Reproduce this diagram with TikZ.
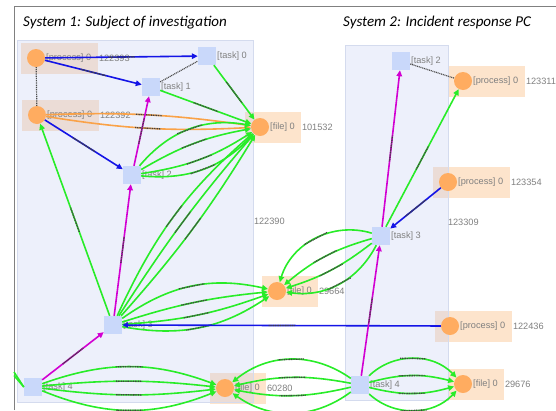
\documentclass[tikz,border=0pt]{standalone}
\usepackage{fontspec}
\setmainfont{Liberation Sans}
\newfontfamily\titlefont{Carlito}
\usetikzlibrary{arrows.meta,decorations.markings}
\definecolor{eg}{RGB}{40,236,40}
\definecolor{eb}{RGB}{20,20,230}
\definecolor{em}{RGB}{210,0,210}
\definecolor{eo}{RGB}{250,162,72}
\definecolor{nodeor}{RGB}{255,172,96}
\definecolor{taskbl}{RGB}{201,216,250}
\definecolor{peach}{RGB}{253,228,204}
\definecolor{boxbl}{RGB}{190,202,240}
\definecolor{boxln}{RGB}{212,219,238}
\definecolor{txtg}{RGB}{128,128,128}
\begin{document}
\begin{tikzpicture}[x=1pt,y=1pt,
  proc/.style={circle, fill=nodeor, minimum size=18pt, inner sep=0pt},
  taskbox/.style={rectangle, fill=taskbl, minimum size=18pt, inner sep=0pt},
  lab/.style={anchor=west, text=txtg, font=\fontsize{9.2}{10}\selectfont, inner sep=0.8pt},
  bgrect/.style={fill=peach},
  grp/.style={fill=boxbl, fill opacity=0.28, draw=boxln, line width=0.8pt},
  ttl/.style={anchor=base west, inner sep=0pt, font=\titlefont\itshape\fontsize{15}{18}\selectfont},
  mid/.style={postaction={decorate, decoration={markings, mark=at position 0.5 with {\draw[-, black!75, line width=1.3pt, dash pattern=on 1pt off 0.7pt] (-13pt,0) -- (13pt,0);}}}},
  ed/.style={line width=1.6pt, -{Triangle[length=6pt,width=5.5pt]}, mid},
  gl/.style={ed, draw=eg, color=eg},
  bl/.style={ed, draw=eb, color=eb},
  ml/.style={ed, draw=em, color=em},
  ol/.style={ed, draw=eo, color=eo},
  dotl/.style={black!70, line width=1.2pt, dash pattern=on 1pt off 0.8pt},
  stub/.style={draw=eg, line width=1.6pt}]
\useasboundingbox (0,0) rectangle (556,-410);
% frame
\draw[gray, line width=1pt] (14,-410) -- (14,-6) -- (556,-6);
% background rectangles of process/file nodes
\fill[bgrect] (21,-42.5) rectangle (98,-73.5);
\fill[bgrect] (22,-99.5) rectangle (99,-130.5);
\fill[bgrect] (245,-111.5) rectangle (301,-142.5);
\fill[bgrect] (210,-372.5) rectangle (266,-403.5);
\fill[bgrect] (262,-275.5) rectangle (318,-306.5);
\fill[bgrect] (448,-65.5) rectangle (525,-96.5);
\fill[bgrect] (433,-166.5) rectangle (510,-197.5);
\fill[bgrect] (435,-310.5) rectangle (512,-341.5);
\fill[bgrect] (448,-368.5) rectangle (504,-399.5);
% group boxes
\path[grp] (17,-40) rectangle (253,-402);
\path[grp] (345,-45) rectangle (448,-400);
% titles and group labels
\node[ttl] (t1) at (23,-26) {System 1: Subject of investigation};
\node[ttl] (t2) at (343,-26) {System 2: Incident response PC};
\node[lab] (g1) at (253,-221) {122390};
\node[lab] (g2) at (447,-222) {123309};
% process / file nodes
\node[proc] (P1) at (36,-58) {};
\node[lab] (P1l) at (P1.east) {[process] 0};
\node[lab] (P1n) at (98,-58) {122393};
\node[proc] (P2) at (37,-115) {};
\node[lab] (P2l) at (P2.east) {[process] 0};
\node[lab] (P2n) at (99,-115) {122392};
\node[proc] (F1) at (260,-127) {};
\node[lab] (F1l) at (F1.east) {[file] 0};
\node[lab] (F1n) at (301,-127) {101532};
\node[proc] (F60) at (225,-388) {};
\node[lab] (F60l) at (F60.east) {[file] 0};
\node[lab] (F60n) at (266,-388) {60280};
\node[proc] (F664) at (277,-291) {};
\node[lab] (F664l) at (F664.east) {[file] 0};
\node[lab] (F664n) at (318,-291) {29664};
\node[proc] (P311) at (463,-81) {};
\node[lab] (P311l) at (P311.east) {[process] 0};
\node[lab] (P311n) at (525,-81) {123311};
\node[proc] (P354) at (448,-182) {};
\node[lab] (P354l) at (P354.east) {[process] 0};
\node[lab] (P354n) at (510,-182) {123354};
\node[proc] (P436) at (450,-326) {};
\node[lab] (P436l) at (P436.east) {[process] 0};
\node[lab] (P436n) at (512,-326) {122436};
\node[proc] (F676) at (463,-384) {};
\node[lab] (F676l) at (F676.east) {[file] 0};
\node[lab] (F676n) at (504,-384) {29676};
% task nodes
\node[taskbox] (T0) at (207,-56) {};
\node[lab] (T0l) at (T0.east) {[task] 0};
\node[taskbox] (T1) at (151,-87) {};
\node[lab] (T1l) at (T1.east) {[task] 1};
\node[taskbox] (T2) at (132,-175) {};
\node[lab] (T2l) at (T2.east) {[task] 2};
\node[taskbox] (T3) at (113,-325) {};
\node[lab] (T3l) at (T3.east) {[task] 3};
\node[taskbox] (T4) at (33,-387) {};
\node[lab] (T4l) at (T4.east) {[task] 4};
\node[taskbox] (U2) at (401,-61) {};
\node[lab] (U2l) at (U2.east) {[task] 2};
\node[taskbox] (U3) at (381,-236) {};
\node[lab] (U3l) at (U3.east) {[task] 3};
\node[taskbox] (U4) at (360,-385) {};
\node[lab] (U4l) at (U4.east) {[task] 4};
\coordinate (L1) at (14,-372);
\coordinate (L2) at (14,-375.5);
% edges system 1
\draw[dotl] (P1) -- (P2);
\draw[dotl] (T1) -- (T0);
\draw[bl] (P1) -- (T0);
\draw[bl] (P1) -- (T1);
\draw[gl] (T0) -- (F1);
\draw[gl] (T1) -- (F1);
\draw[ol] (P2) to[bend left=5] (F1);
\draw[ol] (P2) to[bend right=6] (F1);
\draw[bl] (P2) -- (T2);
\draw[ml] (T2) -- (T1);
\draw[gl] (T2) to[bend left=30] (F1);
\draw[gl] (T2) to[bend left=10] (F1);
\draw[gl] (T2) to[bend right=12] (F1);
\draw[gl] (T2) to[bend right=26] (F1);
\draw[ml] (T3) -- (T2);
\draw[gl] (T3) -- (P2);
\draw[gl] (T3) to[bend left=12] (F1);
\draw[gl] (T3) to[bend left=4] (F1);
\draw[gl] (T3) to[bend right=5] (F1);
\draw[gl] (T3) to[bend left=24] (F664);
\draw[gl] (T3) to[bend left=6] (F664);
\draw[gl] (T3) to[bend right=8] (F664);
\draw[gl] (T3) to[bend right=22] (F664);
\draw[bl] (P436) -- (T3);
\draw[ml] (T4) -- (T3);
\draw[gl] (T4) to[bend left=20] (F60);
\draw[gl] (T4) to[bend left=6] (F60);
\draw[gl] (T4) to[bend right=7] (F60);
\draw[gl] (T4) to[bend right=22] (F60);
\draw[stub] (L1) -- (T4.west);
\draw[stub] (L2) -- (T4.west);
% edges system 2
\draw[dotl] (U2) -- (P311);
\draw[gl] (U4) to[bend right=37] (F60);
\draw[gl] (U4) to[bend right=12] (F60);
\draw[gl] (U4) to[bend left=12] (F60);
\draw[gl] (U4) to[bend left=36] (F60);
\draw[gl] (U4) to[bend left=45] (F676);
\draw[gl] (U4) to[bend left=15] (F676);
\draw[gl] (U4) to[bend right=15] (F676);
\draw[gl] (U4) to[bend right=45] (F676);
\draw[ml] (U4) -- (U3);
\draw[ml] (U3) -- (U2);
\draw[gl] (U3) -- (P311);
\draw[bl] (P354) -- (U3);
\draw[gl] (U3) to[bend right=45] (F664);
\draw[gl] (U3) to[bend right=12] (F664);
\draw[gl] (U3) to[bend left=10] (F664);
\draw[gl] (U3) to[bend left=35] (F664);
\end{tikzpicture}
\end{document}
